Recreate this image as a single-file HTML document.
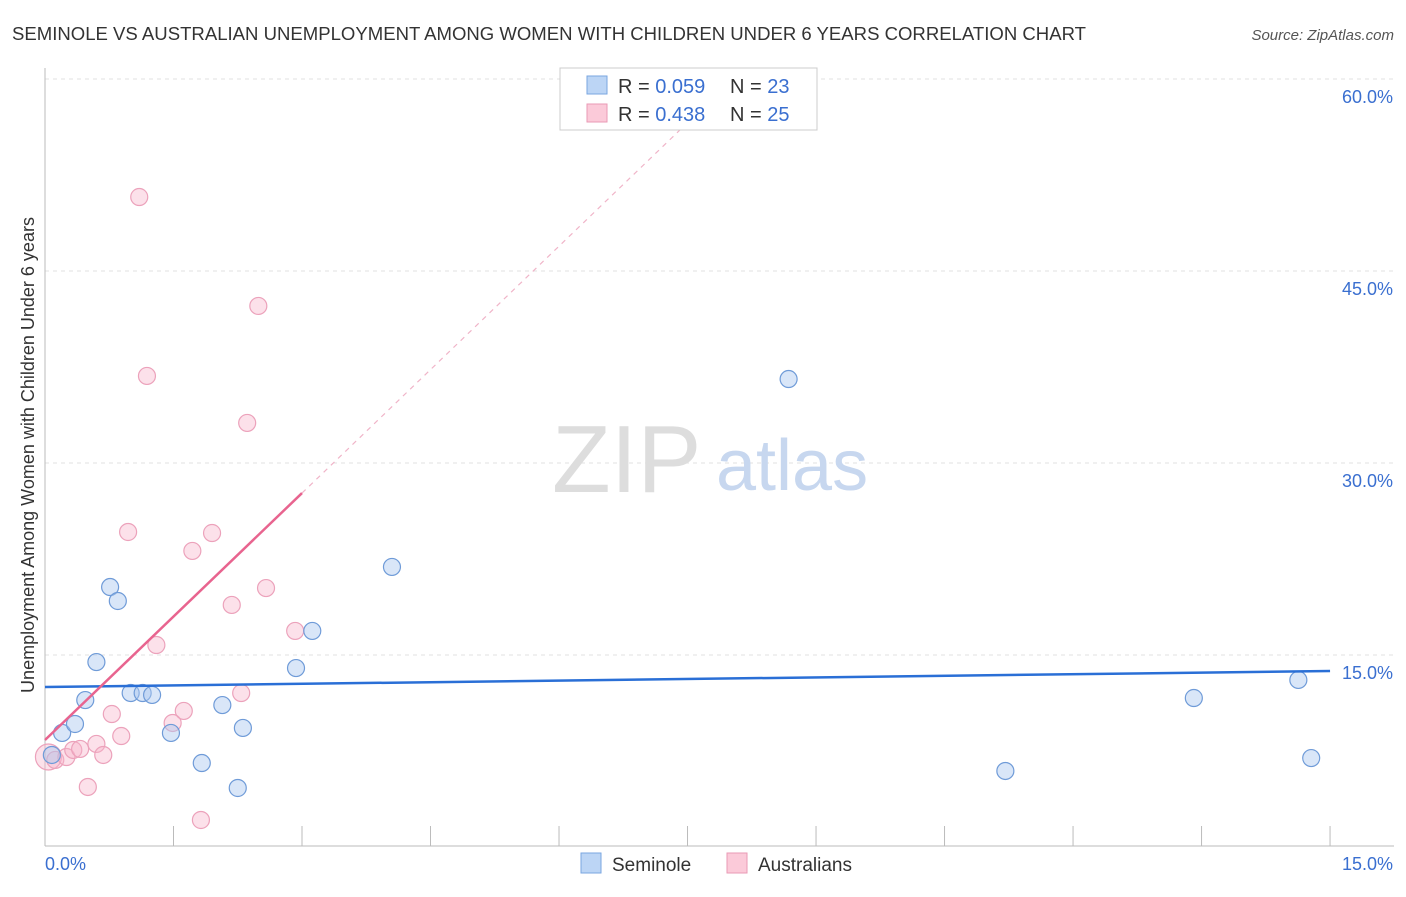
<!DOCTYPE html>
<html><head><meta charset="utf-8"><style>
body{margin:0;background:#fff;font-family:"Liberation Sans",sans-serif;}
svg text{font-family:"Liberation Sans",sans-serif;}
</style></head><body>
<svg width="1406" height="892">
<text x="12" y="40" font-size="18" fill="#333" textLength="1074" lengthAdjust="spacingAndGlyphs">SEMINOLE VS AUSTRALIAN UNEMPLOYMENT AMONG WOMEN WITH CHILDREN UNDER 6 YEARS CORRELATION CHART</text>
<text x="1394" y="40" font-size="15" fill="#555" font-style="italic" text-anchor="end">Source: ZipAtlas.com</text>
<g id="grid"></g>
<text x="552" y="492" font-size="96" fill="#ddd" font-family="Liberation Serif">ZIP</text>
<text x="716" y="490" font-size="72" fill="#c7d7ef">atlas</text>
<text transform="translate(34,455) rotate(-90)" font-size="18" fill="#333" text-anchor="middle">Unemployment Among Women with Children Under 6 years</text>
<g id="marks"></g>
<g>
<rect x="560" y="68" width="257" height="62" fill="#fff" stroke="#ccc"/>
<rect x="587" y="76" width="20" height="18" fill="#bcd5f5" stroke="#7aa6e0"/>
<rect x="587" y="104" width="20" height="18" fill="#fbcad9" stroke="#e99ab5"/>
<text x="618" y="93" font-size="20" fill="#333">R = <tspan fill="#3a6fd0">0.059</tspan></text>
<text x="730" y="93" font-size="20" fill="#333">N = <tspan fill="#3a6fd0">23</tspan></text>
<text x="618" y="121" font-size="20" fill="#333">R = <tspan fill="#3a6fd0">0.438</tspan></text>
<text x="730" y="121" font-size="20" fill="#333">N = <tspan fill="#3a6fd0">25</tspan></text>
</g>
<g>
<rect x="581" y="853" width="20" height="20" fill="#bcd5f5" stroke="#7aa6e0"/>
<text x="612" y="871" font-size="19" fill="#333">Seminole</text>
<rect x="727" y="853" width="20" height="20" fill="#fbcad9" stroke="#e99ab5"/>
<text x="758" y="871" font-size="19" fill="#333">Australians</text>
</g>
</svg>
<script>
const xTicks=[0,1.5,3,4.5,6,7.5,9,10.5,12,13.5,15];
const yTicks=[15,30,45,60];
const yTickLabels=["15.0%","30.0%","45.0%","60.0%"];
const seminoleX=[0.08,0.20,0.35,0.47,0.60,0.76,0.85,1.00,1.14,1.25,1.47,1.83,2.07,2.25,2.31,2.93,3.12,4.05,8.68,11.21,13.41,14.63,14.78];
const seminoleY=[7.19,8.91,9.61,11.48,14.45,20.31,19.22,12.03,12.03,11.88,8.91,6.56,11.09,4.61,9.30,13.98,16.88,21.88,36.56,5.94,11.64,13.05,6.95];
const austX=[0.04,0.12,0.25,0.33,0.41,0.50,0.60,0.68,0.78,0.89,0.97,1.10,1.19,1.30,1.49,1.62,1.72,1.82,1.95,2.18,2.29,2.36,2.49,2.58,2.92];
const austY=[7.03,6.80,7.03,7.58,7.66,4.69,8.05,7.19,10.39,8.67,24.61,50.78,36.80,15.78,9.69,10.63,23.13,2.11,24.53,18.91,12.03,33.13,42.27,20.23,16.88];
const seminoleLine=[12.5,13.75];
const austLine=[8.36,6.43];
const sx=v=>45+v*85.67, sy=v=>847-v*12.8;
const NS="http://www.w3.org/2000/svg";
function mk(t,a,p){const e=document.createElementNS(NS,t);for(const k in a)e.setAttribute(k,a[k]);p.appendChild(e);return e;}
const g=document.getElementById('grid'), m=document.getElementById('marks');
yTicks.forEach((v,i)=>{
 const l=mk('line',{x1:45,x2:1394,y1:sy(v),y2:sy(v),stroke:'#e2e2e2','stroke-dasharray':'4,4'},g);
 
 
 const t=mk('text',{x:1393,y:sy(v)+24,'font-size':18,fill:'#3a6fd0','text-anchor':'end'},g);t.textContent=yTickLabels[i];
 
 
});
mk('line',{x1:45,x2:45,y1:68,y2:846,stroke:'#bbb'},g);
mk('line',{x1:45,x2:1394,y1:846,y2:846,stroke:'#bbb'},g);
xTicks.forEach(v=>{if(v>0){const l=mk('line',{x1:sx(v),x2:sx(v),y1:826,y2:846,stroke:'#bbb'},g);
 
 }});
let t=mk('text',{x:45,y:870,'font-size':18,fill:'#3a6fd0'},g);t.textContent="0.0%";


t=mk('text',{x:1393,y:870,'font-size':18,fill:'#3a6fd0','text-anchor':'end'},g);t.textContent="15.0%";


austX.forEach((x,i)=>{const c=mk('circle',{cx:sx(x),cy:sy(austY[i]),r:i==0?13:8.5,fill:'rgba(248,180,202,0.4)',stroke:'#eca2bb','stroke-width':1.2},m);
 
 });
seminoleX.forEach((x,i)=>{const c=mk('circle',{cx:sx(x),cy:sy(seminoleY[i]),r:8.5,fill:'rgba(170,200,240,0.45)',stroke:'#6f9bd8','stroke-width':1.2},m);
 
 });
let l=mk('line',{x1:sx(0),y1:sy(seminoleLine[0]),x2:sx(15),y2:sy(seminoleLine[1]),stroke:'#2a6fd6','stroke-width':2.5},m);


l=mk('line',{x1:sx(0),y1:sy(austLine[0]),x2:sx(3),y2:sy(austLine[0]+3*austLine[1]),stroke:'#e8648f','stroke-width':2.5},m);


const xe=(60-austLine[0])/austLine[1];
l=mk('line',{x1:sx(3),y1:sy(austLine[0]+3*austLine[1]),x2:sx(xe),y2:sy(60),stroke:'#f0b4c8','stroke-width':1.2,'stroke-dasharray':'5,5'},m);


</script>
</body></html>
